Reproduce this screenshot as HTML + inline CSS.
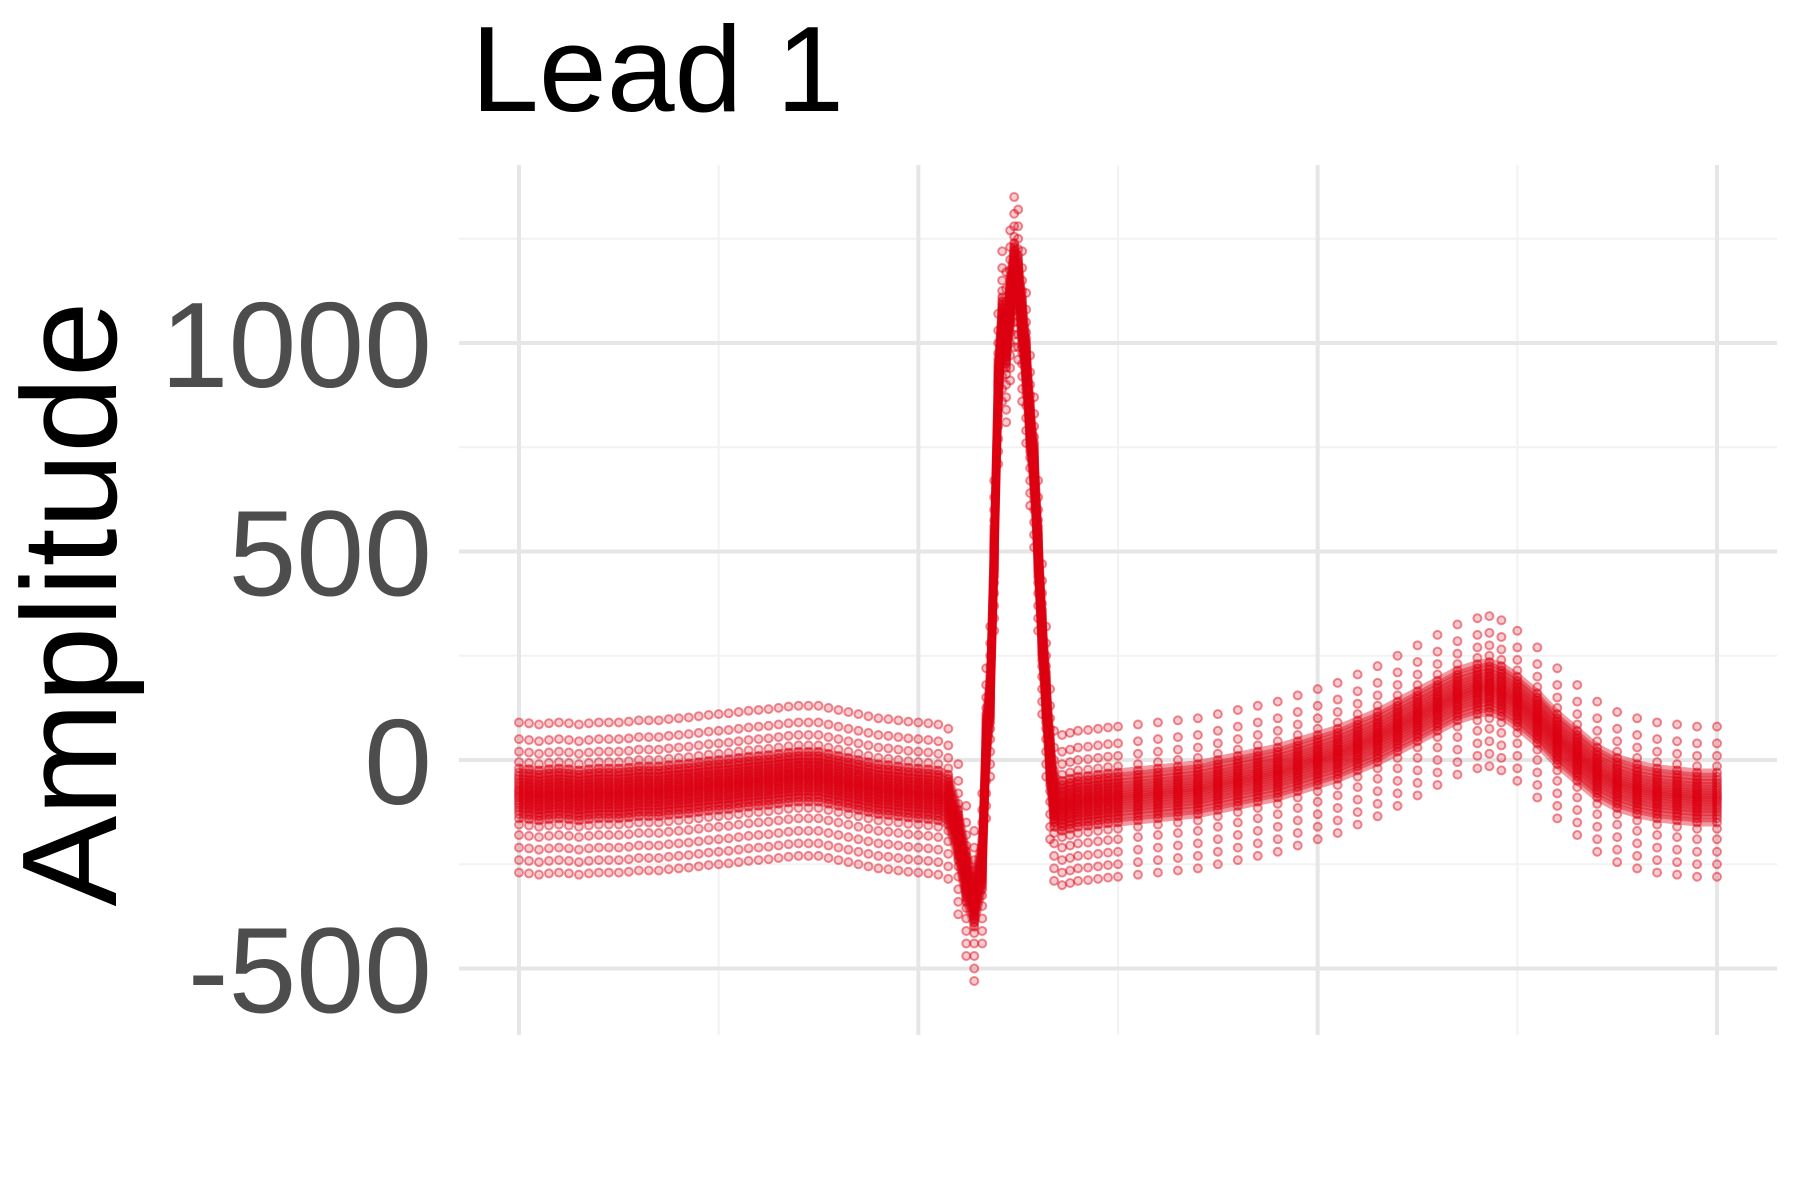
<!DOCTYPE html>
<html><head><meta charset="utf-8"><style>
html,body{margin:0;padding:0;background:#fff;}
svg{display:block;}
</style></head><body>
<svg id="chart" width="1800" height="1200" viewBox="0 0 1800 1200" xmlns="http://www.w3.org/2000/svg">
<rect width="1800" height="1200" fill="#fff"/>
<g id="grid"></g>
<g id="marks"></g>
<g id="yticks"></g>
<text x="471" y="111" font-family="Liberation Sans, sans-serif" font-size="122" fill="#000">Lead 1</text>
<text transform="translate(116,604) rotate(-90)" text-anchor="middle" font-family="Liberation Sans, sans-serif" font-size="135" textLength="605" lengthAdjust="spacingAndGlyphs" fill="#000">Amplitude</text>
</svg>
<script>
const sampleX = [0,2.5,5,7.5,10,12.5,15,17.5,20,22.5,25,27.5,30,32.5,35,37.5,40,42.5,45,47.5,50,52.5,55,57.5,60,62.5,65,67.5,70,72.5,75,77.5,80,82.5,85,87.5,90,92.5,95,97.5,100,102.5,105,107.5,110,112,114,116,117,118,119,120,121,122,123,124,125,126,127,128,129,130,131,132,133,134,136,138,140,142.5,145,147.5,150,155,160,165,170,175,180,185,190,195,200,205,210,215,220,225,230,235,240,243,246,250,255,260,265,270,275,280,285,290,295,300];
const meanAmp = [-80,-82,-85,-82,-80,-82,-85,-82,-80,-80,-80,-78,-75,-75,-75,-72,-70,-68,-65,-62,-60,-58,-55,-52,-50,-48,-45,-42,-40,-40,-40,-45,-50,-55,-60,-65,-70,-72,-75,-78,-80,-82,-85,-95,-180,-280,-340,-250,50,150,500,900,1050,1000,1100,1180,1150,1050,950,800,700,500,300,150,0,-100,-110,-105,-100,-98,-95,-92,-90,-85,-80,-75,-70,-60,-50,-40,-30,-15,0,15,35,55,80,105,130,155,170,175,165,140,100,50,10,-30,-55,-70,-80,-85,-90,-90];
const beatOffsets = [-190,-160,-130,-100,-75,-60,-50,-42,-35,-28,-22,-16,-10,-5,0,5,10,16,22,28,35,42,50,60,75,100,130,170];
const yTicks = [-500,0,500,1000];
const yMinor = [-250,250,750,1250];
const xTicks = [0,100,200,300];
const xMinor = [50,150,250];

const NS = "http://www.w3.org/2000/svg";
const X0 = 519, X1 = 1717, U0 = 0, U1 = 300;
const PL = 459, PR = 1777, PT = 165, PB = 1035;
function xs(u){ return X0 + (u - U0) * (X1 - X0) / (U1 - U0); }
function ys(v){ return 760 - v * 0.417; }
function mk(tag, attrs, parent){ const e = document.createElementNS(NS, tag); for (const k in attrs) e.setAttribute(k, attrs[k]); parent.appendChild(e); return e; }

const grid = document.getElementById('grid');
yMinor.forEach(v => {
  const l = mk('line', {x1:PL, x2:PR, y1:ys(v), y2:ys(v), stroke:'#f2f2f2', 'stroke-width':2}, grid);
  
  
});
xMinor.forEach(u => {
  const l = mk('line', {x1:xs(u), x2:xs(u), y1:PT, y2:PB, stroke:'#f2f2f2', 'stroke-width':2}, grid);
  
  
});
yTicks.forEach(v => {
  const l = mk('line', {x1:PL, x2:PR, y1:ys(v), y2:ys(v), stroke:'#e6e6e6', 'stroke-width':4}, grid);
  
  
});
xTicks.forEach(u => {
  const l = mk('line', {x1:xs(u), x2:xs(u), y1:PT, y2:PB, stroke:'#e6e6e6', 'stroke-width':4}, grid);
  
  
});

const yt = document.getElementById('yticks');
yTicks.forEach(v => {
  const t = mk('text', {x:432, y:ys(v)+44, 'text-anchor':'end', 'font-family':'Liberation Sans, sans-serif', 'font-size':122, fill:'#4d4d4d'}, yt);
  t.textContent = String(v);
  
  
});

const marks = document.getElementById('marks');
beatOffsets.forEach((off, bi) => {
  const g = mk('g', {}, marks);
  
  
  if (Math.abs(off) <= 60) {
    const pts = sampleX.map((u, i) => xs(u).toFixed(1) + ',' + ys(meanAmp[i] + off).toFixed(1)).join(' ');
    const pl = mk('polyline', {points:pts, fill:'none', stroke:'rgb(220,0,18)', 'stroke-opacity':0.4, 'stroke-width':8, 'stroke-linejoin':'round'}, g);
    
    
  }
  sampleX.forEach((u, i) => {
    const c = mk('circle', {cx:xs(u), cy:ys(meanAmp[i] + off), r:4, fill:'rgb(220,0,18)', 'fill-opacity':0.2, stroke:'rgb(220,0,18)', 'stroke-opacity':0.45, 'stroke-width':2}, g);
    
    
  });
});
</script>
</body></html>
